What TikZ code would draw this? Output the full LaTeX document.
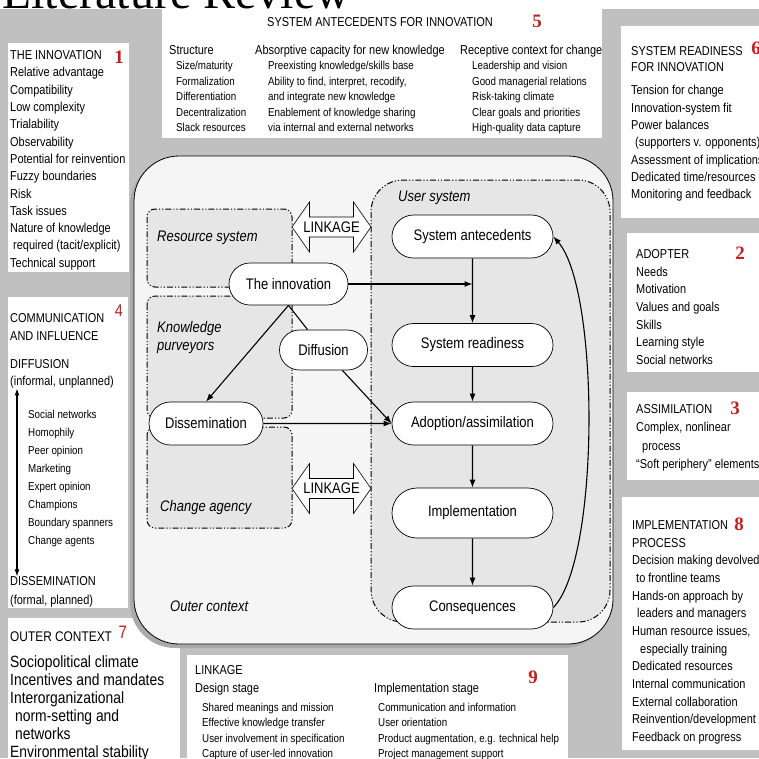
\documentclass[tikz,border=0pt]{standalone}
\usepackage{fontspec}
\setmainfont{Liberation Sans}[FakeStretch=0.85]
\newfontfamily\serifttl{Liberation Serif}
\usetikzlibrary{shapes.misc,shapes.arrows,arrows.meta}
\definecolor{bggray}{RGB}{192,192,192}
\definecolor{shadowgray}{RGB}{170,170,170}
\definecolor{outerfill}{RGB}{245,245,245}
\definecolor{userfill}{RGB}{230,230,230}
\definecolor{numred}{RGB}{200,30,30}
\newcommand{\boxfont}{\fontsize{12.9}{17.3}\selectfont}
\newcommand{\subfont}{\fontsize{11.5}{15.6}\selectfont}
\newcommand{\figfont}{\fontsize{15.3}{18}\selectfont}
\newcommand{\outerfont}{\fontsize{16.3}{18}\selectfont}
\begin{document}
\begin{tikzpicture}[x=1pt,y=-1pt,
    stage/.style={rounded rectangle, draw, fill=white, line width=0.7pt,
        minimum height=43pt, minimum width=165pt, inner sep=2pt, font=\figfont},
    region/.style={draw, fill=userfill, line width=1pt, rounded corners=8pt,
        dash pattern=on 6pt off 2pt on 1.2pt off 2pt on 1.2pt off 2pt},
    lbl/.style={anchor=west, inner sep=0pt, font=\figfont\itshape},
    flow/.style={line width=1.1pt, -{Latex[length=8pt,width=6pt]}},
    linkarrow/.style={double arrow, draw, fill=white, line width=0.6pt,
        double arrow head extend=13pt, double arrow tip angle=110,
        minimum width=50pt, minimum height=79pt, inner sep=3pt, font=\figfont},
    txt/.style={anchor=north west, align=left, inner sep=0pt},
    boxnum/.style={text=numred, inner sep=0pt, font=\fontsize{19}{19}\selectfont\serifttl\bfseries}
  ]
  \useasboundingbox (0,0) rectangle (759,758);
  \clip (0,0) rectangle (759,758);
  \fill[bggray] (0,0) rectangle (759,758);
  \fill[white] (0,0) rectangle (759,9);

  \fill[white] (8,43) rectangle (129,272);
  \fill[white] (162,7) rectangle (602,138);
  \fill[white] (621,26) rectangle (765,218);
  \fill[white] (627,233) rectangle (765,372);
  \fill[white] (627,392) rectangle (765,480);
  \fill[white] (622,497) rectangle (765,750);
  \fill[white] (8,297) rectangle (128,608);
  \fill[white] (8,618) rectangle (180,765);
  \fill[white] (187,655) rectangle (568,765);

  \node[anchor=base west, inner sep=0pt, font=\fontsize{48}{48}\selectfont\serifttl] (title) at (2,8.5) {Literature Review};

  \node[txt, font=\boxfont] (innovbox) at (10,50.4) {THE INNOVATION\\Relative advantage\\Compatibility\\Low complexity\\Trialability\\Observability\\Potential for reinvention\\Fuzzy boundaries\\Risk\\Task issues\\Nature of knowledge\\\hspace*{3pt}required (tacit/explicit)\\Technical support};
  \node[boxnum] (n1) at (119,57) {1};

  \node[txt, font=\boxfont] (antetitle) at (267,17.4) {SYSTEM ANTECEDENTS FOR INNOVATION};
  \node[boxnum] (n5) at (537,21) {5};
  \node[txt, font=\boxfont] (structhd) at (169,45.4) {Structure};
  \node[txt, font=\boxfont] (absorbhd) at (255,45.4) {Absorptive capacity for new knowledge};
  \node[txt, font=\boxfont] (recephd) at (460,45.4) {Receptive context for change};
  \node[txt, font=\subfont] (structlist) at (176,61) {Size/maturity\\Formalization\\Differentiation\\Decentralization\\Slack resources};
  \node[txt, font=\subfont] (absorblist) at (268,61) {Preexisting knowledge/skills base\\Ability to find, interpret, recodify,\\and integrate new knowledge\\Enablement of knowledge sharing\\via internal and external networks};
  \node[txt, font=\subfont] (receplist) at (472,61) {Leadership and vision\\Good managerial relations\\Risk-taking climate\\Clear goals and priorities\\High-quality data capture};

  \node[txt, font=\fontsize{12.9}{16.3}\selectfont] (readytitle) at (631,46.4) {SYSTEM READINESS\\FOR INNOVATION};
  \node[boxnum] (n6) at (756,48) {6};
  \node[txt, font=\boxfont] (readylist) at (631,85.4) {Tension for change\\Innovation-system fit\\Power balances\\\hspace*{4pt}(supporters v. opponents)\\Assessment of implications\\Dedicated time/resources\\Monitoring and feedback};

  \node[txt, font=\fontsize{12.9}{17.6}\selectfont] (adoptbox) at (636,249.4) {ADOPTER\\Needs\\Motivation\\Values and goals\\Skills\\Learning style\\Social networks};
  \node[boxnum] (n2) at (740,253) {2};

  \node[txt, font=\fontsize{12.9}{18.3}\selectfont] (assimbox) at (636,404.4) {ASSIMILATION\\Complex, nonlinear\\\hspace*{6pt}process\\``Soft periphery'' elements};
  \node[boxnum] (n3) at (735,408) {3};

  \node[txt, font=\fontsize{12.9}{17.67}\selectfont] (implbox) at (632,520.4) {IMPLEMENTATION\\PROCESS\\Decision making devolved\\\hspace*{4pt}to frontline teams\\Hands-on approach by\\\hspace*{5pt}leaders and managers\\Human resource issues,\\\hspace*{8pt}especially training\\Dedicated resources\\Internal communication\\External collaboration\\Reinvention/development\\Feedback on progress};
  \node[boxnum] (n8) at (739,524) {8};

  \node[txt, font=\fontsize{12.9}{18}\selectfont] (commtitle) at (10,313.4) {COMMUNICATION\\AND INFLUENCE};
  \node[text=numred, inner sep=0pt, font=\fontsize{17}{17}\selectfont] (n4) at (119,311) {4};
  \node[txt, font=\fontsize{12.9}{17}\selectfont] (difflbl) at (10,359.4) {DIFFUSION\\(informal, unplanned)};
  \node[txt, font=\fontsize{11.5}{18}\selectfont] (channels) at (28,409.6) {Social networks\\Homophily\\Peer opinion\\Marketing\\Expert opinion\\Champions\\Boundary spanners\\Change agents};
  \node[txt, font=\fontsize{12.9}{19}\selectfont] (disslbl) at (10,576.4) {DISSEMINATION\\(formal, planned)};
  \draw[line width=1.1pt, {Latex[length=7pt,width=5pt]}-{Latex[length=7pt,width=5pt]}]
    ([xshift=7pt]difflbl.south west) -- ([xshift=7pt]disslbl.north west);

  \node[txt, font=\fontsize{14}{18}\selectfont] (outertitle) at (10,632) {OUTER CONTEXT};
  \node[text=numred, inner sep=0pt, font=\fontsize{18}{18}\selectfont] (n7) at (123,632) {7};
  \node[txt, font=\outerfont] (outerlist) at (10,655.3) {Sociopolitical climate\\Incentives and mandates\\Interorganizational\\\hspace*{5pt}norm-setting and\\\hspace*{5pt}networks\\Environmental stability};

  \node[txt, font=\boxfont] (linktitle) at (195,665.4) {LINKAGE};
  \node[boxnum] (n9) at (533,677) {9};
  \node[txt, font=\boxfont] (designhd) at (195,683.4) {Design stage};
  \node[txt, font=\boxfont] (implhd) at (374,683.4) {Implementation stage};
  \node[txt, font=\fontsize{11.5}{15.3}\selectfont] (designlist) at (202,703) {Shared meanings and mission\\Effective knowledge transfer\\User involvement in specification\\Capture of user-led innovation};
  \node[txt, font=\fontsize{11.5}{15.3}\selectfont] (impllist) at (378,703) {Communication and information\\User orientation\\Product augmentation, e.g. technical help\\Project management support};

  \fill[shadowgray, rounded corners=45pt] (130,160) rectangle (609,648);
  \draw[fill=outerfill, line width=0.8pt, rounded corners=45pt] (134,156) rectangle (613,644);
  \draw[region, rounded corners=32pt] (371,180) rectangle (610,622);
  \draw[region] (147,209) rectangle (292,287);
  \draw[region] (147,296) rectangle (292,418);
  \draw[region] (147,427) rectangle (292,528);

  \node[lbl] (ressys) at (157,238) {Resource system};
  \node[txt, font=\figfont\itshape] (purvey) at (157,321.5) {Knowledge\\purveyors};
  \node[lbl] (changeag) at (160,508) {Change agency};
  \node[lbl] (usersys) at (398,198) {User system};
  \node[lbl] (outerctx) at (170,606) {Outer context};

  \node[stage] (ant) at (472.5,236.5) {System antecedents};
  \node[stage] (ready) at (472.5,345) {System readiness};
  \node[stage] (adopt) at (472.5,423.5) {Adoption/assimilation};
  \node[stage, minimum height=50pt] (impl) at (472.5,513) {Implementation};
  \node[stage] (conseq) at (472.5,607.5) {Consequences};
  \node[stage, minimum width=123pt, minimum height=42pt] (innov) at (288.5,284) {The innovation};
  \node[stage, minimum width=92pt, minimum height=40pt] (diff) at (323.5,350) {Diffusion};
  \node[stage, minimum width=118pt] (dissem) at (206,423.5) {Dissemination};

  \node[linkarrow] (linktop) at (331.5,227) {LINKAGE};
  \node[linkarrow] (linkbot) at (331.5,488.5) {LINKAGE};

  \draw[flow] (innov.east) -- (innov.east -| ant.south);
  \draw[flow] (ant) -- (ready);
  \draw[flow] (ready) -- (adopt);
  \draw[flow] (adopt) -- (impl);
  \draw[flow] (impl) -- (conseq);
  \draw[flow] (conseq.east) .. controls (600,560) and (600,290) .. (ant.east);
  \draw[flow] (innov.south) -- (dissem.north);
  \draw[line width=1.1pt] (innov.south) -- (diff);
  \draw[flow] (diff) -- (adopt.west);
  \draw[flow] (dissem) -- (adopt);
\end{tikzpicture}
\end{document}
